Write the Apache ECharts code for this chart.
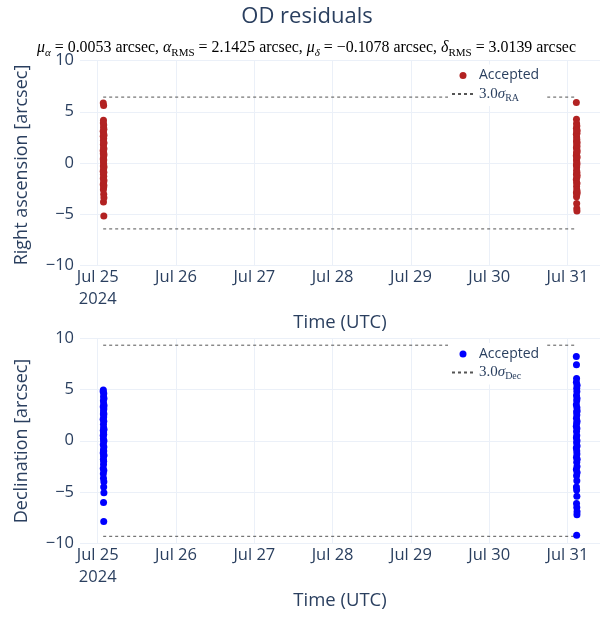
<!DOCTYPE html>
<html><head><meta charset="utf-8">
<script src="https://cdn.jsdelivr.net/npm/echarts@6/dist/echarts.min.js"></script>
<style>html,body{margin:0;padding:0;background:#fff}#c{width:603px;height:618px}</style>
</head><body><div id="c"></div>
<script>
// ---- data ----
const obsTimes25 = ['01:40:05','01:40:26','01:40:47','01:41:08','01:41:29','01:41:50','01:42:11','01:42:32','01:42:53','01:43:14',
  '01:43:35','01:43:56','01:44:17','01:44:38','01:44:59','01:45:20','01:45:41','01:46:02','01:46:23','01:46:44',
  '01:47:05','01:47:26','01:47:47','01:48:08','01:48:29','01:48:50','01:49:11','01:49:32','01:49:53','01:50:14',
  '01:50:35','01:50:56','01:51:17','01:51:38','01:51:59','01:52:20','01:52:41','01:53:02','01:53:23','01:53:44',
  '01:54:05','01:54:26','01:54:47','01:55:08','01:55:29'];
const raResid25 = [1.2,-0.8,3.1,0.4,-2.1,2.6,5.85,-1.5,0.9,3.9,-0.3,1.8,-2.6,2.2,0.1,-1.1,4.16,-3.8,1.5,-0.6,
  2.9,3.5,-1.9,0.6,-2.4,5.6,1.0,-0.1,2.4,-3.05,3.7,-1.3,0.3,1.9,-5.17,-0.9,2.0,3.3,-2.2,-3.4,1.4,-1.7,0.8,2.7,-0.4];
const decResid25 = [2.1,4.8,-1.2,0.5,3.3,-2.7,1.0,-0.4,4.95,-3.2,2.6,0.2,-1.8,3.9,-0.9,1.6,-3.65,2.9,-2.3,0.8,
  -6.0,4.3,-1.5,1.3,-0.1,3.6,-2.0,-4.5,2.3,0.6,-7.86,4.6,-1.0,1.9,-2.9,3.1,-0.6,-3.98,2.6,-5.05,0.0,4.1,-1.4,1.1,3.4];
const obsTimes31 = ['02:42:03','02:42:24','02:42:45','02:43:06','02:43:27','02:43:48','02:44:09','02:44:30','02:44:51','02:45:12',
  '02:45:33','02:45:54','02:46:15','02:46:36','02:46:57','02:47:18','02:47:39','02:48:00','02:48:21','02:48:42',
  '02:49:03','02:49:24','02:49:45','02:50:06','02:50:27','02:50:48','02:51:09','02:51:30','02:51:51','02:52:12',
  '02:52:33','02:52:54','02:53:15','02:53:36','02:53:57','02:54:18','02:54:39','02:55:00','02:55:21','02:55:42',
  '02:56:03','02:56:24','02:56:45','02:57:06','02:57:27'];
const raResid31 = [0.7,-1.6,2.8,5.9,-0.2,1.5,-2.9,3.4,0.3,-1.1,4.26,2.1,-3.3,1.0,-0.7,3.85,-2.3,0.9,2.5,-1.9,
  -3.96,1.8,-0.4,3.1,-2.6,0.1,-4.45,2.3,-1.4,3.6,0.5,-0.9,1.3,-2.0,-4.68,2.9,-0.1,1.6,-3.0,0.6,3.2,-1.2,2.0,-2.8,1.1];
const decResid31 = [1.4,8.2,-0.7,3.5,-2.8,5.7,0.3,-4.5,2.2,7.4,-1.6,4.4,-6.1,0.9,-3.4,6.05,2.8,-0.2,-4.8,1.7,
  -9.2,3.9,-2.1,5.1,-1.0,0.5,-6.5,2.5,-3.9,4.8,-5.4,1.2,-1.3,3.2,-7.2,0.0,-2.5,4.1,-6.9,1.9,-0.5,5.4,-3.1,2.9,-1.8];
const raLimit = 6.43;   // 3.0 * sigma_RA
const decLimit = 9.3;   // 3.0 * sigma_Dec
const dayTicks = ['2024-07-25','2024-07-26','2024-07-27','2024-07-28','2024-07-29','2024-07-30','2024-07-31'];
const xRange = ['2024-07-24T18:34:00Z','2024-07-31T09:58:00Z'];
const yRange = [-10, 10];
const yStep = 5;

// ---- build ----
const ts = (d, t) => Date.parse(d + 'T' + t + 'Z');
const pts = (times, day, vals) => times.map((t, i) => [ts(day, t), vals[i]]);
const raPts = pts(obsTimes25, '2024-07-25', raResid25).concat(pts(obsTimes31, '2024-07-31', raResid31));
const decPts = pts(obsTimes25, '2024-07-25', decResid25).concat(pts(obsTimes31, '2024-07-31', decResid31));
const tFirst = ts('2024-07-25', obsTimes25[0]);
const tLast = ts('2024-07-31', obsTimes31[obsTimes31.length - 1]);
const tickVals = dayTicks.map(d => Date.parse(d + 'T00:00:00Z'));
const MON = ['Jan','Feb','Mar','Apr','May','Jun','Jul','Aug','Sep','Oct','Nov','Dec'];

const FONT = '"Open Sans", verdana, arial, sans-serif';
const SERIF = '"Liberation Serif", "DejaVu Serif", serif';
const INK = '#2a3f5f';
const GRID = '#ebf0f8';

function xAxis(gi) {
  return {
    type: 'value', gridIndex: gi, scale: true,
    min: Date.parse(xRange[0]), max: Date.parse(xRange[1]),
    axisLine: {show: false},
    axisTick: {show: false, customValues: tickVals},
    splitLine: {show: true, lineStyle: {color: GRID, width: 1}, customValues: tickVals},
    axisLabel: {
      customValues: tickVals, color: INK, fontFamily: FONT, fontSize: 16.5, margin: 1, lineHeight: 22,
      hideOverlap: false, showMinLabel: true, showMaxLabel: true,
      formatter: (v) => {
        const d = new Date(v);
        const s = MON[d.getUTCMonth()] + ' ' + d.getUTCDate();
        return v === tickVals[0] ? s + '\n' + d.getUTCFullYear() : s;
      }
    }
  };
}
function yAxis(gi) {
  return {
    type: 'value', gridIndex: gi, min: yRange[0], max: yRange[1], interval: yStep,
    axisLine: {show: false}, axisTick: {show: false},
    splitLine: {lineStyle: {color: GRID, width: 1}},
    axisLabel: {color: INK, fontFamily: FONT, fontSize: 16.5, margin: 6,
      formatter: v => v < 0 ? '\u2212' + Math.abs(v) : String(v)}
  };
}
function limitSeries(name, gi, lim) {
  return [lim, -lim].map(y => ({
    name: name, type: 'line', xAxisIndex: gi, yAxisIndex: gi,
    data: [[tFirst, y], [tLast, y]], symbol: 'none', showSymbol: false, silent: true,
    lineStyle: {color: '#555', width: 1, type: [3, 3]}, itemStyle: {color: '#555'}, z: 1
  }));
}
const legendRich = {
  n: {fontFamily: SERIF, fontSize: 15, color: INK, lineHeight: 18, verticalAlign: 'middle'},
  i: {fontFamily: SERIF, fontSize: 15, fontStyle: 'italic', color: INK, lineHeight: 18, verticalAlign: 'middle'},
  s: {fontFamily: SERIF, fontSize: 10, color: INK, verticalAlign: 'bottom'}
};
function legend(names, top) {
  return {
    orient: 'vertical', left: 448, top: top, itemGap: 0.5, itemWidth: 22, itemHeight: 7,
    backgroundColor: '#ffffff', padding: [2, 8, 3, 3],
    data: [{name: names[0]}, {name: names[1], itemStyle: {opacity: 0}}],
    textStyle: {fontFamily: FONT, fontSize: 14, color: INK, lineHeight: 18, rich: legendRich},
    formatter: (n) => n.indexOf('Accepted') === 0 ? 'Accepted'
      : (n === '3.0σRA' ? '{n|3.0}{i|σ}{s|RA}' : '{n|3.0}{i|σ}{s|Dec}')
  };
}
const subRich = {
  n: {fontFamily: SERIF, fontSize: 15.9, color: '#000', lineHeight: 22, verticalAlign: 'middle'},
  m: {fontFamily: SERIF, fontSize: 15.9, fontStyle: 'italic', color: '#000', lineHeight: 22, verticalAlign: 'middle'},
  si: {fontFamily: SERIF, fontSize: 11, fontStyle: 'italic', color: '#000', verticalAlign: 'bottom'},
  s: {fontFamily: SERIF, fontSize: 11, color: '#000', verticalAlign: 'bottom'}
};
const subText = '{m|μ}{si|α}{n| = 0.0053 arcsec, }{m|α}{s|RMS}{n| = 2.1425 arcsec, }{m|μ}{si|δ}{n| = −0.1078 arcsec, }{m|δ}{s|RMS}{n| = 3.0139 arcsec}';

const chart = echarts.init(document.getElementById('c'), null, {renderer: 'canvas'});
chart.setOption({
  animation: false,
  backgroundColor: '#ffffff',
  grid: [
    {left: 80, right: 3, top: 60.5, height: 205},
    {left: 80, right: 3, top: 338, height: 205.5}
  ],
  xAxis: [xAxis(0), xAxis(1)],
  yAxis: [yAxis(0), yAxis(1)],
  legend: [legend(['Accepted (RA)', '3.0σRA'], 64.5), legend(['Accepted (Dec)', '3.0σDec'], 343)],
  graphic: [
    {type: 'text', x: 307, y: 17, style: {text: 'OD residuals', fontFamily: FONT, fontSize: 22, fill: INK, align: 'center', verticalAlign: 'middle'}},
    {type: 'text', x: 306.5, y: 48, style: {text: subText, rich: subRich, align: 'center', verticalAlign: 'middle'}},
    {type: 'text', x: 22, y: 165, rotation: Math.PI / 2, style: {text: 'Right ascension [arcsec]', fontFamily: FONT, fontSize: 18, fill: INK, align: 'center', verticalAlign: 'middle'}},
    {type: 'text', x: 22, y: 441, rotation: Math.PI / 2, style: {text: 'Declination [arcsec]', fontFamily: FONT, fontSize: 18, fill: INK, align: 'center', verticalAlign: 'middle'}},
    {type: 'text', x: 340, y: 323, style: {text: 'Time (UTC)', fontFamily: FONT, fontSize: 18.5, fill: INK, align: 'center', verticalAlign: 'middle'}},
    {type: 'text', x: 340, y: 601, style: {text: 'Time (UTC)', fontFamily: FONT, fontSize: 18.5, fill: INK, align: 'center', verticalAlign: 'middle'}}
  ],
  series: [
    {name: 'Accepted (RA)', type: 'scatter', xAxisIndex: 0, yAxisIndex: 0, data: raPts, symbol: 'circle', symbolSize: 7,
      itemStyle: {color: '#b22222', opacity: 1}, z: 3},
    ...limitSeries('3.0σRA', 0, raLimit),
    {name: 'Accepted (Dec)', type: 'scatter', xAxisIndex: 1, yAxisIndex: 1, data: decPts, symbol: 'circle', symbolSize: 7,
      itemStyle: {color: '#0000ff', opacity: 1}, z: 3},
    ...limitSeries('3.0σDec', 1, decLimit)
  ]
});
</script>
</body></html>
